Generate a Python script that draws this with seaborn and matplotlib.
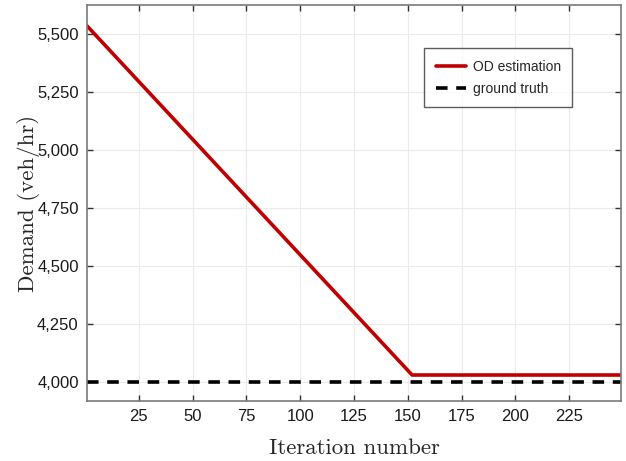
import seaborn as sns
import pandas as pd
import matplotlib.pyplot as plt
from matplotlib.ticker import FuncFormatter

# values
iterations = [1, 152, 250]
od_estimation = [5535, 4030, 4030]
truth_iterations = [1, 250]
ground_truth = [4000, 4000]

x_ticks = [25, 50, 75, 100, 125, 150, 175, 200, 225]
y_ticks = [4000, 4250, 4500, 4750, 5000, 5250, 5500]

sns.set_theme(style="whitegrid")
plt.rcParams["font.family"] = ["Liberation Sans", "DejaVu Sans"]

est = pd.DataFrame({"Iteration": iterations, "Demand": od_estimation})
gt = pd.DataFrame({"Iteration": truth_iterations, "Demand": ground_truth})

fig = plt.figure(figsize=(6.26, 4.61), dpi=100)
ax = fig.add_axes([87 / 626, 60 / 461, 534 / 626, 396 / 461])

sns.lineplot(ax=ax, data=est, x="Iteration", y="Demand", color="#c00000",
             linewidth=2.6, label="OD estimation")
sns.lineplot(ax=ax, data=gt, x="Iteration", y="Demand", color="black",
             linewidth=2.6, linestyle=(0, (3.2, 2.4)), label="ground truth")

ax.set_xlim(1, 249)
ax.set_ylim(3918, 5625)
ax.set_xticks(x_ticks)
ax.set_yticks(y_ticks)
ax.yaxis.set_major_formatter(FuncFormatter(lambda v, p: f"{int(v):,}"))

ax.grid(True, color="#ebebeb", linewidth=0.8)
ax.set_facecolor("white")
for s in ax.spines.values():
    s.set_color("#7a7a7a")
    s.set_linewidth(1.2)
ax.tick_params(direction="in", length=4, width=1, color="#333333",
               top=True, right=True, bottom=True, left=True,
               labelsize=12, labelcolor="#1a1a1a", pad=6)

ax.set_xlabel("Iteration number", family="cmr10", fontsize=16.5, labelpad=10)
ax.set_ylabel("Demand (veh/hr)", family="cmr10", fontsize=16.5, labelpad=-2)

leg = ax.legend(loc="upper left", bbox_to_anchor=(0.631, 0.891), fontsize=10,
                frameon=True, fancybox=False, borderpad=0.85, handlelength=2.2,
                handletextpad=0.45, labelspacing=0.55, borderaxespad=0)
leg.get_frame().set_edgecolor("#333333")
leg.get_frame().set_linewidth(1.0)

fig.savefig("out.png", dpi=100)
